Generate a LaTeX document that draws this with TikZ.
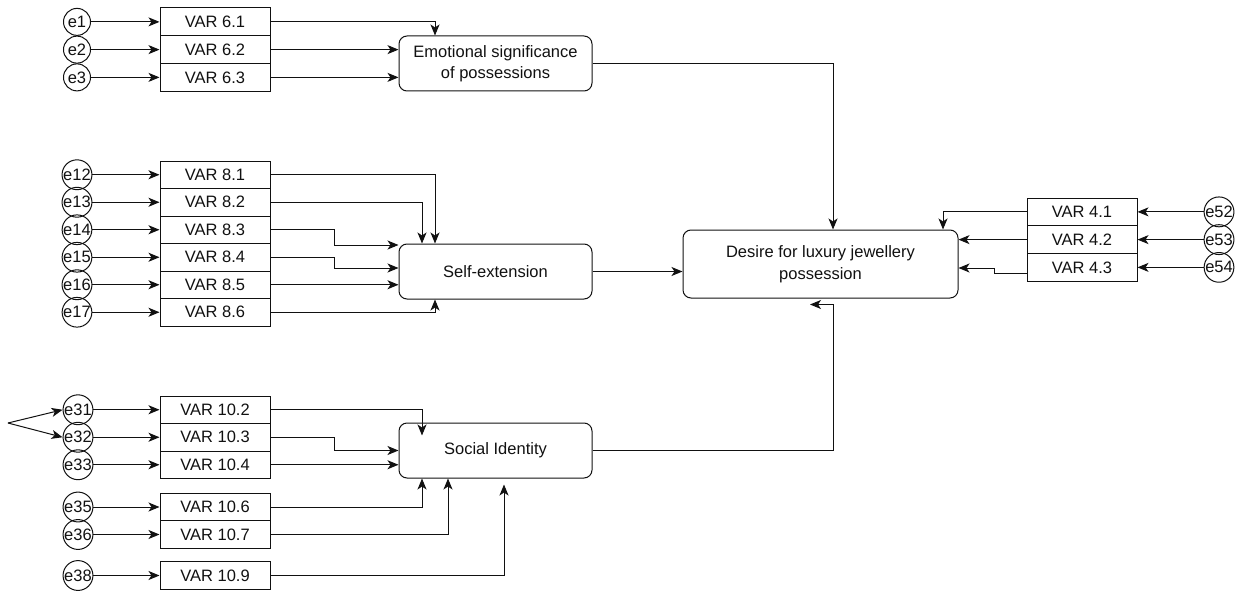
\documentclass[tikz,border=0pt]{standalone}
\usepackage{fontspec}
\setmainfont{Liberation Sans}
\usetikzlibrary{arrows.meta,calc}
\definecolor{ink}{HTML}{111111}
\tikzset{
  every node/.style={font=\fontsize{16.5}{21.5}\selectfont, text=ink},
  var/.style={draw=ink, line width=1pt, rectangle, minimum width=110pt, minimum height=27.75pt, inner sep=0pt},
  err/.style={draw=ink, line width=1pt, circle, minimum size=27pt, inner sep=0pt},
  lat/.style={draw=ink, line width=1pt, rounded corners=8pt, minimum width=193pt, minimum height=55pt, align=center, inner sep=0pt},
  arr/.style={draw=ink, line width=1pt, -{Stealth[length=11pt,width=9pt,inset=3pt]}}
}
\begin{document}
\begin{tikzpicture}[x=1pt,y=-1pt]
\useasboundingbox (0,0) rectangle (1238,591);

% latent nodes
\node[lat] (emo) at (495.5,63.5) {Emotional significance\\of possessions};
\node[lat] (self) at (495.5,271.5) {Self-extension};
\node[lat] (soc) at (495.5,450.5) {Social Identity};
\node[lat, minimum width=275pt, minimum height=68pt] (des) at (820.5,264) {Desire for luxury jewellery\\possession};

% group 1
\node[var] (v61) at (215,21.875) {VAR 6.1};
\node[var] (v62) at (215,49.625) {VAR 6.2};
\node[var] (v63) at (215,77.375) {VAR 6.3};
\node[err] (e1) at (77,21.875) {e1};
\node[err] (e2) at (77,49.625) {e2};
\node[err] (e3) at (77,77.375) {e3};
\draw[arr] (e1) -- (v61.west);
\draw[arr] (e2) -- (v62.west);
\draw[arr] (e3) -- (v63.west);
\draw[arr] (v61.east) -| ([xshift=-60.5pt]emo.north);
\draw[arr] (v62.east) -- (v62.east -| emo.west);
\draw[arr] (v63.east) -- (v63.east -| emo.west);

% group 2
\node[var, minimum height=27.5pt] (v81) at (215,174.75) {VAR 8.1};
\node[var, minimum height=27.5pt] (v82) at (215,202.25) {VAR 8.2};
\node[var, minimum height=27.5pt] (v83) at (215,229.75) {VAR 8.3};
\node[var, minimum height=27.5pt] (v84) at (215,257.25) {VAR 8.4};
\node[var, minimum height=27.5pt] (v85) at (215,284.75) {VAR 8.5};
\node[var, minimum height=27.5pt] (v86) at (215,312.25) {VAR 8.6};
\node[err] (e12) at (77,174.75) {e12};
\node[err] (e13) at (77,202.25) {e13};
\node[err] (e14) at (77,229.75) {e14};
\node[err] (e15) at (77,257.25) {e15};
\node[err] (e16) at (77,284.75) {e16};
\node[err] (e17) at (77,312.25) {e17};
\draw[arr] (e12) -- (v81.west);
\draw[arr] (e13) -- (v82.west);
\draw[arr] (e14) -- (v83.west);
\draw[arr] (e15) -- (v84.west);
\draw[arr] (e16) -- (v85.west);
\draw[arr] (e17) -- (v86.west);
\draw[arr] (v81.east) -| ([xshift=-60.5pt]self.north);
\draw[arr] (v82.east) -| ([xshift=-73.5pt]self.north);
\draw[arr] (v83.east) -- ++(64,0) |- ([yshift=26.5pt]self.west);
\draw[arr] (v84.east) -- ++(64,0) |- ([yshift=3.5pt]self.west);
\draw[arr] (v85.east) -- (v85.east -| self.west);
\draw[arr] (v86.east) -| ([xshift=-60.5pt]self.south);

% group 3
\node[var, minimum height=27.5pt] (v102) at (215,409.75) {VAR 10.2};
\node[var, minimum height=27.5pt] (v103) at (215,437.25) {VAR 10.3};
\node[var, minimum height=27.5pt] (v104) at (215,464.75) {VAR 10.4};
\node[var, minimum height=27.5pt] (v106) at (215,507) {VAR 10.6};
\node[var, minimum height=27.5pt] (v107) at (215,534.5) {VAR 10.7};
\node[var, minimum height=27.5pt] (v109) at (215,575.5) {VAR 10.9};
\node[err] (e31) at (78,409.75) {e31};
\node[err] (e32) at (78,437.25) {e32};
\node[err] (e33) at (78,464.75) {e33};
\node[err] (e35) at (78,507) {e35};
\node[err] (e36) at (78,534.5) {e36};
\node[err] (e38) at (78,575.5) {e38};
\draw[arr] (e31) -- (v102.west);
\draw[arr] (e32) -- (v103.west);
\draw[arr] (e33) -- (v104.west);
\draw[arr] (e35) -- (v106.west);
\draw[arr] (e36) -- (v107.west);
\draw[arr] (e38) -- (v109.west);
\coordinate (cv) at (8,423);
\draw[arr] (cv) -- (e31.west);
\draw[arr] (cv) -- (e32.west);
\draw[arr] (v102.east) -| ([xshift=-73.5pt,yshift=-13pt]soc.north);
\draw[arr] (v103.east) -- ++(64,0) |- (soc.west);
\draw[arr] (v104.east) -- (v104.east -| soc.west);
\draw[arr] (v106.east) -| ([xshift=-73.5pt]soc.south);
\draw[arr] (v107.east) -| ([xshift=-47.5pt]soc.south);
\draw[arr] (v109.east) -| ([xshift=8.5pt,yshift=-6pt]soc.south);

% right group
\node[var] (v41) at (1082,211.875) {VAR 4.1};
\node[var] (v42) at (1082,239.625) {VAR 4.2};
\node[var] (v43) at (1082,267.375) {VAR 4.3};
\node[err] (e52) at (1219,211.875) {e52};
\node[err] (e53) at (1219,239.625) {e53};
\node[err] (e54) at (1219,267.375) {e54};
\draw[arr] (e52) -- (v41.east);
\draw[arr] (e53) -- (v42.east);
\draw[arr] (e54) -- (v43.east);
\draw[arr] (v41.west) -| ([xshift=122.5pt]des.north);
\draw[arr] (v42.west) -- (v42.west -| des.east);
\draw[arr] ([yshift=-6.5pt]v43.west) -| ([xshift=36pt,yshift=-4pt]des.east) -- ([yshift=-4pt]des.east);

% latent to desire
\draw[arr] (emo.east) -| ([xshift=12.5pt]des.north);
\draw[arr] (self.east) -- (self.east -| des.west);
\draw[arr] (soc.east) -| ([xshift=12.5pt,yshift=-6pt]des.south) -- ([xshift=-10.5pt,yshift=-6pt]des.south);
\end{tikzpicture}
\end{document}
